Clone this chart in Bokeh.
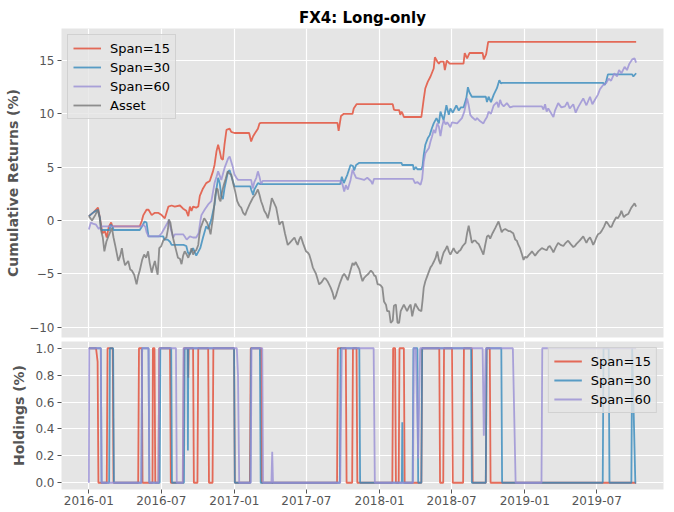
import pandas as pd
from bokeh.plotting import figure
from bokeh.layouts import column
from bokeh.models import (Range1d, FixedTicker, DatetimeTickFormatter,
                          CustomJSTickFormatter, Legend, LegendItem, ColumnDataSource)
from bokeh.embed import file_html
from bokeh.resources import INLINE

# ---------------- data (day offset from START, value) ----------------
START = "2016-01-01"
TITLE = "FX4: Long-only"
XTICK_LABELS = ["2016-01", "2016-07", "2017-01", "2017-07",
                "2018-01", "2018-07", "2019-01", "2019-07"]
TOP_YTICKS = [-10, -5, 0, 5, 10, 15]
BOT_YTICKS = [0.0, 0.2, 0.4, 0.6, 0.8, 1.0]
SERIES = ["Span=15", "Span=30", "Span=60"]
COLORS = {"Span=15": "#E24A33", "Span=30": "#348ABD",
          "Span=60": "#988ED5", "Asset": "#777777"}

asset_pts = [
    (0, 0.4), (8, 0.0), (16, 0.5), (22, 1.0), (27, 0.3), (31, -1.0), (35, -1.6), (39, -2.9),
    (44, -2.0), (49, -1.5), (58, -0.7), (62, -1.6), (66, -2.3), (74, -3.8), (79, -3.3),
    (83, -2.6), (87, -3.6), (91, -4.2), (99, -3.8), (104, -4.6), (108, -4.7), (114, -5.1),
    (120, -6.0), (124, -5.2), (128, -4.7), (134, -3.7), (139, -3.2), (144, -3.5), (149, -2.9),
    (153, -4.0), (158, -4.9), (162, -4.3), (166, -3.8), (170, -4.6), (173, -5.1), (177, -2.6),
    (182, -2.4), (187, -1.9), (195, -1.6), (199, -0.8), (201, 0.1), (205, -0.2), (208, -0.9),
    (212, -1.7), (216, -2.3), (220, -2.9), (224, -3.5), (229, -3.6), (233, -4.1), (237, -3.3),
    (241, -2.9), (246, -3.2), (250, -3.5), (254, -3.1), (258, -2.6), (262, -3.2), (266, -2.9),
    (270, -2.8), (275, -2.3), (278, -1.3), (281, -0.7), (285, -0.3), (290, 0.2), (297, -0.2),
    (302, -0.7), (306, -1.3), (309, -0.5), (312, 0.2), (315, 1.3), (318, 2.4), (321, 3.0),
    (324, 2.9), (328, 2.0), (331, 1.8), (335, 2.7), (339, 3.3), (344, 3.9), (349, 4.6),
    (353, 4.4), (358, 4.3), (361, 3.8), (364, 3.3), (368, 2.7), (373, 1.8), (378, 1.4),
    (383, 1.2), (388, 0.7), (393, 0.5), (398, 1.0), (404, 1.5), (408, 1.8), (412, 2.1),
    (418, 2.4), (425, 2.9), (429, 2.4), (433, 1.8), (437, 1.4), (441, 0.9), (446, 0.6),
    (450, 0.2), (455, 1.0), (460, 2.1), (465, 1.7), (471, 1.2), (475, 0.4), (479, -0.4),
    (483, -0.2), (487, -0.1), (493, -1.2), (500, -2.3), (505, -2.1), (510, -1.9), (517, -1.6),
    (521, -2.0), (525, -2.3), (529, -1.8), (533, -1.5), (539, -2.2), (546, -2.9), (550, -3.0),
    (554, -3.2), (559, -3.8), (563, -4.4), (567, -4.7), (571, -5.0), (575, -5.5), (579, -6.0),
    (585, -5.8), (592, -5.4), (596, -5.5), (600, -5.7), (604, -6.0), (608, -6.3), (613, -6.8),
    (617, -7.4), (621, -7.1), (625, -6.6), (630, -6.0), (634, -5.6), (638, -5.2), (642, -5.0),
    (647, -5.3), (651, -5.6), (657, -4.8), (663, -4.0), (667, -4.2), (671, -3.9), (676, -4.3),
    (680, -4.6), (684, -5.2), (688, -5.7), (692, -5.4), (697, -5.2), (703, -5.0), (709, -4.7),
    (714, -4.9), (718, -5.2), (721, -5.2), (726, -6.0), (730, -6.0), (734, -6.1), (738, -6.3),
    (742, -7.6), (747, -7.9), (750, -8.5), (755, -8.5), (759, -9.6), (764, -9.4), (767, -8.0),
    (772, -7.9), (776, -9.6), (780, -9.6), (784, -8.5), (788, -8.2), (792, -7.9), (796, -8.2),
    (800, -8.5), (805, -8.1), (809, -7.9), (813, -9.0), (817, -8.3), (821, -7.8), (825, -8.1),
    (830, -8.4), (836, -8.5), (839, -7.5), (842, -6.3), (846, -5.7), (851, -5.2), (855, -4.8),
    (859, -4.4), (863, -4.2), (867, -3.9), (872, -3.5), (876, -2.9), (880, -3.7), (884, -4.1),
    (888, -3.5), (892, -3.0), (897, -2.7), (901, -2.4), (905, -2.9), (909, -3.2), (913, -2.9),
    (917, -2.6), (921, -2.9), (926, -3.1), (930, -2.9), (934, -2.8), (940, -2.4), (947, -2.1),
    (951, -1.2), (955, -0.5), (959, -1.3), (963, -2.1), (968, -1.9), (972, -1.9), (976, -2.1),
    (980, -2.2), (986, -2.7), (992, -3.2), (996, -2.4), (1001, -1.5), (1005, -1.4), (1009, -1.7),
    (1015, -1.2), (1022, -0.7), (1026, -0.4), (1030, -0.1), (1034, -0.6), (1038, -1.1),
    (1042, -0.9), (1047, -0.8), (1051, -0.9), (1055, -1.0), (1059, -1.0), (1063, -1.1),
    (1067, -1.2), (1072, -1.8), (1076, -1.9), (1080, -2.3), (1084, -2.6), (1089, -3.2),
    (1093, -3.7), (1097, -3.4), (1101, -3.5), (1105, -3.3), (1110, -3.1), (1114, -2.9),
    (1118, -3.1), (1122, -3.3), (1130, -2.9), (1139, -2.6), (1145, -2.7), (1151, -2.8),
    (1155, -2.5), (1159, -2.4), (1164, -2.7), (1168, -3.0), (1174, -2.5), (1180, -2.1),
    (1186, -2.3), (1193, -2.4), (1199, -2.1), (1205, -1.9), (1211, -2.2), (1218, -2.5),
    (1222, -2.4), (1226, -2.2), (1234, -1.9), (1243, -1.5), (1247, -1.8), (1251, -2.1),
    (1255, -1.8), (1260, -1.6), (1264, -1.9), (1268, -2.3), (1272, -2.0), (1276, -1.6),
    (1280, -1.3), (1285, -1.2), (1289, -1.0), (1295, -0.6), (1301, -0.1), (1305, -0.3),
    (1310, -0.6), (1314, -0.6), (1320, -0.1), (1326, 0.3), (1330, 0.2), (1335, 0.5),
    (1339, 0.9), (1345, 0.3), (1350, 0.5), (1356, 0.6), (1360, 0.9), (1364, 1.2),
    (1368, 1.4), (1372, 1.6), (1376, 1.3),
]

span15_pts = [
    (0, 0.4), (13, 0.8), (23, 1.2), (28, 0.2), (34, -1.2), (40, -1.0), (45, -1.6), (50, -0.6),
    (56, -0.2), (59, -0.55), (128, -0.55), (133, -0.05), (137, 0.5), (145, 1.0), (150, 1.0),
    (158, 0.5), (165, 0.7), (175, 0.7), (183, 0.5), (191, 0.2), (200, 1.3), (208, 1.4),
    (216, 1.3), (229, 1.4), (237, 1.1), (245, 0.9), (250, 0.4), (254, 1.3), (258, 0.9),
    (262, 1.3), (270, 1.2), (275, 1.3), (279, 2.3), (287, 3.0), (295, 3.5), (304, 3.7),
    (312, 4.6), (316, 5.2), (321, 6.5), (325, 7.1), (329, 6.5), (333, 5.8), (337, 5.7),
    (341, 7.1), (346, 8.5), (354, 8.6), (358, 8.3), (366, 8.2), (403, 8.2), (408, 7.4),
    (413, 7.9), (418, 8.2), (425, 8.6), (429, 9.1), (433, 9.15), (625, 9.15), (628, 8.4),
    (634, 9.8), (641, 10.0), (663, 10.0), (666, 10.5), (673, 10.9), (764, 10.9), (767, 10.4),
    (771, 10.35), (780, 10.35), (783, 9.9), (786, 10.2), (789, 10.0), (792, 9.7), (836, 9.7),
    (842, 11.4), (846, 12.4), (852, 13.0), (859, 13.5), (867, 14.25), (870, 15.3), (876, 14.9),
    (880, 14.7), (884, 14.9), (892, 14.9), (895, 14.1), (900, 15.0), (907, 14.7), (942, 14.7),
    (945, 15.7), (951, 15.2), (957, 15.7), (990, 15.7), (993, 15.1), (999, 15.6), (1004, 16.75),
    (1376, 16.75),
]

span30_pts = [
    (0, 0.4), (13, 0.8), (23, 1.0), (28, 0.2), (31, -0.9), (52, -0.9), (55, -0.4), (60, -0.6),
    (62, -0.9), (128, -0.9), (133, -0.6), (140, -0.1), (145, -0.2), (150, -1.5), (187, -1.5),
    (190, -1.8), (198, -1.8), (204, -2.0), (208, -2.3), (238, -2.3), (245, -2.4), (249, -3.0),
    (253, -3.2), (262, -2.6), (270, -3.3), (280, -2.6), (287, -1.6), (295, -0.55), (300, -0.8),
    (308, 0.1), (316, 1.5), (321, 3.0), (325, 4.0), (329, 3.5), (333, 2.3), (337, 2.0),
    (341, 3.0), (350, 4.6), (354, 4.7), (358, 4.2), (366, 3.2), (406, 3.2), (408, 2.9),
    (413, 2.4), (416, 2.9), (425, 3.5), (431, 3.4), (632, 3.4), (636, 4.1), (641, 3.5),
    (650, 4.3), (658, 5.2), (664, 5.1), (667, 4.7), (672, 5.2), (680, 5.4), (786, 5.4),
    (788, 5.2), (815, 5.2), (817, 4.75), (822, 5.0), (826, 4.8), (836, 4.8), (839, 5.1),
    (842, 6.15), (846, 7.1), (852, 7.7), (857, 8.0), (862, 8.6), (867, 9.1), (874, 9.6),
    (880, 9.1), (884, 10.2), (892, 9.4), (899, 10.8), (905, 9.9), (909, 10.5), (915, 10.1),
    (924, 10.8), (930, 10.3), (935, 10.6), (942, 10.6), (949, 11.45), (953, 12.5), (957, 12.0),
    (963, 11.6), (998, 11.6), (1001, 11.1), (1005, 11.6), (1011, 11.1), (1018, 11.8),
    (1022, 12.1), (1026, 12.4), (1032, 13.15), (1036, 12.85), (1039, 12.9), (1293, 12.9),
    (1297, 12.7), (1301, 13.1), (1305, 13.7), (1366, 13.7), (1369, 13.5), (1376, 13.8),
]

span60_pts = [
    (0, -0.85), (5, -0.2), (10, -0.3), (18, -0.4), (25, -0.8), (31, -0.55), (133, -0.55),
    (137, -0.4), (142, -0.6), (145, -1.1), (150, -1.5), (176, -1.5), (183, -1.2), (195, -0.4),
    (201, 0.0), (206, -0.8), (212, -1.6), (216, -1.3), (237, -1.3), (241, -1.5), (246, -1.8),
    (254, -1.5), (262, -1.6), (270, -1.6), (276, -1.2), (281, 0.1), (283, 0.5), (291, 1.0),
    (300, 1.5), (308, 1.8), (316, 3.5), (321, 4.1), (325, 4.6), (333, 3.8), (341, 4.9),
    (350, 5.8), (354, 6.0), (358, 5.5), (362, 5.0), (366, 4.3), (371, 4.0), (375, 3.8),
    (408, 3.8), (412, 3.0), (416, 3.6), (421, 4.0), (425, 4.6), (429, 4.1), (433, 3.4),
    (437, 3.7), (633, 3.7), (638, 3.35), (642, 2.7), (646, 3.3), (651, 2.9), (658, 3.8),
    (663, 4.75), (667, 4.4), (672, 4.0), (683, 3.9), (692, 3.8), (700, 4.0), (709, 3.7),
    (713, 3.4), (717, 3.9), (815, 3.9), (820, 3.5), (826, 3.6), (834, 3.35), (838, 3.9),
    (842, 5.5), (846, 6.3), (855, 6.8), (859, 7.4), (863, 7.9), (867, 8.5), (871, 8.2),
    (876, 9.1), (880, 8.8), (884, 7.9), (888, 8.8), (892, 9.4), (897, 9.0), (901, 9.2),
    (909, 8.75), (913, 9.2), (926, 9.1), (938, 9.6), (944, 10.2), (951, 11.45), (955, 10.8),
    (959, 9.9), (963, 9.7), (972, 9.4), (976, 9.6), (984, 9.3), (992, 9.1), (996, 9.4),
    (1001, 9.7), (1005, 10.2), (1011, 10.0), (1018, 10.8), (1026, 11.1), (1030, 10.6),
    (1034, 11.3), (1038, 10.9), (1043, 10.7), (1051, 11.0), (1059, 10.6), (1067, 10.7),
    (1139, 10.7), (1143, 10.4), (1147, 10.9), (1151, 10.2), (1155, 10.5), (1168, 9.7),
    (1172, 10.3), (1180, 11.0), (1188, 10.6), (1197, 10.7), (1203, 11.1), (1209, 10.5),
    (1218, 10.9), (1224, 10.1), (1230, 10.6), (1243, 11.45), (1251, 10.8), (1260, 11.6),
    (1266, 10.9), (1272, 11.3), (1280, 11.8), (1285, 12.3), (1293, 12.7), (1301, 12.9),
    (1307, 13.3), (1313, 13.1), (1321, 13.8), (1328, 13.5), (1333, 14.1), (1339, 13.8),
    (1347, 14.4), (1353, 14.1), (1359, 14.7), (1366, 15.1), (1372, 15.2), (1376, 14.8),
]

hold15_pts = [
    (0, 1), (18, 1), (22, 0.9), (24, 0), (45, 0), (47, 1), (60, 1), (62, 0), (124, 0), (126, 1),
    (133, 1), (135, 0), (160, 0), (161, 1), (165, 1), (167, 0), (175, 0), (177, 1), (204, 1),
    (206, 0), (237, 0), (239, 1), (249, 1), (250, 0.78), (251, 1), (262, 1), (264, 0), (273, 0),
    (275, 1), (300, 1), (302, 0), (311, 0), (313, 1), (365, 1), (367, 0), (405, 0), (407, 1),
    (433, 1), (435, 0), (624, 0), (626, 1), (646, 1), (648, 0), (662, 0), (664, 1), (673, 1),
    (675, 0), (763, 0), (765, 1), (770, 1), (772, 0), (779, 0), (781, 1), (792, 1), (794, 0),
    (836, 0), (838, 1), (881, 1), (883, 0), (891, 0), (893, 1), (913, 1), (915, 0), (941, 0),
    (943, 1), (963, 1), (965, 0), (998, 0), (1000, 1), (1008, 1), (1010, 0), (1376, 0),
]

hold30_pts = [
    (0, 1), (30, 1), (32, 0), (51, 0), (53, 1), (61, 1), (63, 0), (132, 0), (134, 1), (150, 1),
    (152, 0), (178, 0), (180, 1), (207, 1), (209, 0), (239, 0), (241, 1), (248, 1), (249, 0.24),
    (250, 1), (365, 1), (367, 0), (406, 0), (408, 1), (430, 1), (432, 0), (631, 0), (633, 1),
    (680, 1), (682, 0), (787, 0), (788, 0.45), (789, 0), (814, 0), (816, 1), (826, 1), (828, 0),
    (836, 0), (838, 1), (961, 1), (963, 0), (998, 0), (1000, 1), (1037, 1), (1039, 0),
    (1292, 0), (1294, 1), (1307, 1), (1309, 0), (1364, 0), (1366, 1), (1374, 0), (1376, 0),
]

hold60_pts = [
    (0, 0), (1, 1), (30, 1), (32, 0), (132, 0), (134, 1), (150, 1), (152, 0), (175, 0), (177, 1),
    (219, 1), (221, 0), (236, 0), (238, 1), (372, 1), (375, 0.8), (378, 0), (407, 0), (409, 1),
    (436, 1), (438, 0), (459, 0), (461, 0.23), (463, 0), (632, 0), (636, 1), (716, 1), (719, 0),
    (815, 0), (817, 1), (822, 1), (828, 0.18), (833, 1), (990, 1), (993, 0.35), (998, 1),
    (1066, 1), (1073, 0), (1138, 0), (1140, 1), (1376, 1),
]

# ---------------- helpers ----------------
T0 = pd.Timestamp(START)


def ms(ts):
    return ts.value / 1e6


def src(pts):
    days = [d for d, _ in pts]
    vals = [v for _, v in pts]
    x = [T0 + pd.Timedelta(days=d) for d in days]
    return ColumnDataSource(dict(x=x, y=vals))


FONT = "DejaVu Sans"
BG = "#E5E5E5"
TXT = "#555555"
LW = 1.8
ALPHA = 0.8
FIG_W = 666
BL = 61
BR = 3

xr = Range1d(start=ms(T0 - pd.Timedelta(days=68.8)), end=ms(T0 + pd.Timedelta(days=1444.8)))
xticks = [ms(pd.Timestamp(lbl + "-01")) for lbl in XTICK_LABELS]


def style(p, yticks, fmt_code):
    p.background_fill_color = BG
    p.border_fill_color = "white"
    p.outline_line_color = None
    p.xgrid.ticker = FixedTicker(ticks=xticks)
    p.ygrid.ticker = FixedTicker(ticks=yticks)
    for g in (p.xgrid, p.ygrid):
        g.grid_line_color = "white"
        g.grid_line_width = 1.2
    ax = p.yaxis[0]
    ax.ticker = FixedTicker(ticks=yticks)
    ax.formatter = CustomJSTickFormatter(code=fmt_code)
    ax.axis_line_color = None
    ax.major_tick_line_color = TXT
    ax.major_tick_out = 4
    ax.major_tick_in = 0
    ax.minor_tick_line_color = None
    ax.major_label_text_font = FONT
    ax.major_label_text_font_size = "12px"
    ax.major_label_text_color = TXT
    ax.major_label_standoff = 3
    ax.axis_label_text_font = FONT
    ax.axis_label_text_font_size = "14px"
    ax.axis_label_text_font_style = "bold"
    ax.axis_label_text_color = TXT
    ax.axis_label_standoff = 5


def legend_for(p, items, loc):
    lg = Legend(items=items, location=loc)
    lg.label_text_font = FONT
    lg.label_text_font_size = "13px"
    lg.label_text_color = "black"
    lg.glyph_width = 28
    lg.glyph_height = 16
    lg.label_height = 16
    lg.label_standoff = 9
    lg.spacing = 3
    lg.padding = 5
    lg.margin = 6
    lg.background_fill_color = BG
    lg.background_fill_alpha = 0.8
    lg.border_line_color = "#CCCCCC"
    lg.border_line_alpha = 0.8
    p.add_layout(lg)


# ---------------- top panel ----------------
top = figure(width=FIG_W, height=338, x_axis_type="datetime", x_range=xr,
             y_range=Range1d(-10.98, 18.0), output_backend="svg",
             toolbar_location=None, min_border_left=BL, min_border_right=BR,
             min_border_top=28, min_border_bottom=1)
top.title.text = TITLE
top.title.align = "center"
top.title.text_font = FONT
top.title.text_font_size = "15px"
top.title.text_font_style = "bold"
top.title.text_color = "black"
top.title.standoff = 4
top.xaxis.visible = False
style(top, TOP_YTICKS, "return tick < 0 ? '\u2212' + Math.abs(tick) : tick.toString();")
top.yaxis.axis_label = "Cumulative Returns (%)"

top_items = []
for name, pts in (("Span=15", span15_pts), ("Span=30", span30_pts),
                  ("Span=60", span60_pts), ("Asset", asset_pts)):
    r = top.line("x", "y", source=src(pts), line_color=COLORS[name],
                 line_width=LW, line_alpha=ALPHA)
    top_items.append(LegendItem(label=name, renderers=[r]))
legend_for(top, top_items, "top_left")

# ---------------- bottom panel ----------------
bot = figure(width=FIG_W, height=169, x_axis_type="datetime", x_range=xr,
             y_range=Range1d(-0.05, 1.05), output_backend="svg",
             toolbar_location=None, min_border_left=BL, min_border_right=BR,
             min_border_top=3, min_border_bottom=17)
style(bot, BOT_YTICKS, "return tick.toFixed(1);")
bot.yaxis.axis_label = "Holdings (%)"
xa = bot.xaxis[0]
xa.ticker = FixedTicker(ticks=xticks)
xa.formatter = DatetimeTickFormatter(days="%Y-%m", months="%Y-%m", years="%Y-%m")
xa.axis_line_color = None
xa.major_tick_line_color = TXT
xa.major_tick_out = 4
xa.major_tick_in = 0
xa.minor_tick_line_color = None
xa.major_label_text_font = FONT
xa.major_label_text_font_size = "12px"
xa.major_label_text_color = TXT
xa.major_label_standoff = 2

bot_items = []
for name, pts in (("Span=15", hold15_pts), ("Span=30", hold30_pts), ("Span=60", hold60_pts)):
    r = bot.line("x", "y", source=src(pts), line_color=COLORS[name],
                 line_width=LW, line_alpha=ALPHA)
    bot_items.append(LegendItem(label=name, renderers=[r]))
legend_for(bot, bot_items, "top_right")

layout = column(top, bot, spacing=0)
open("out.html", "w").write(file_html(layout, INLINE))
